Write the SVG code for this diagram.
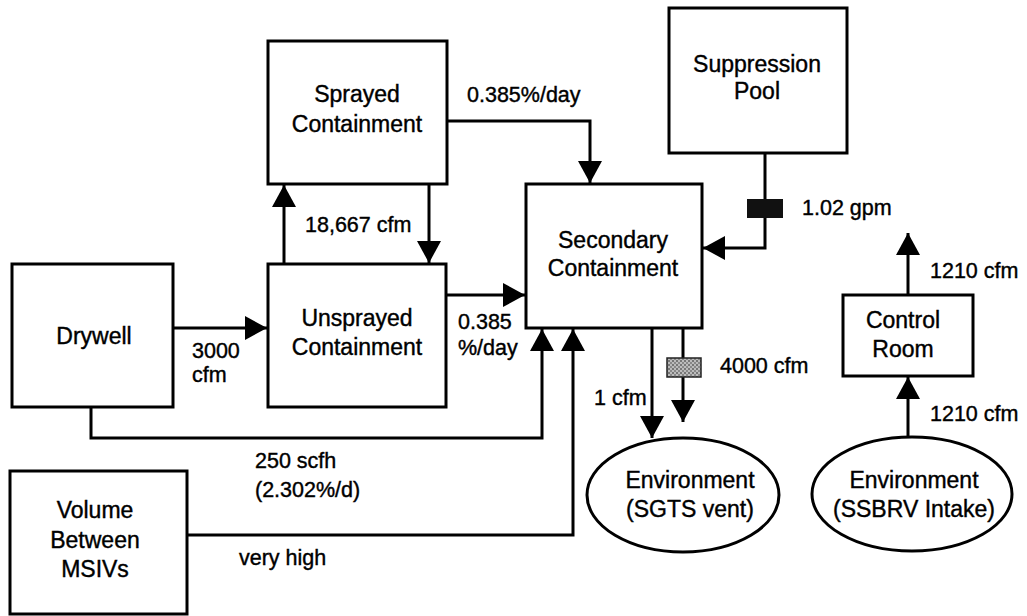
<svg xmlns="http://www.w3.org/2000/svg" width="1027" height="616" viewBox="0 0 1027 616">
<style>
.box{fill:#fff;stroke:#000;stroke-width:3}
.ln{fill:none;stroke:#000;stroke-width:3}
.nt{font-family:"Liberation Sans",Arial,sans-serif;font-size:23px;text-anchor:middle;fill:#000;stroke:#000;stroke-width:0.4}
.lb{font-family:"Liberation Sans",Arial,sans-serif;font-size:21.5px;fill:#000;stroke:#000;stroke-width:0.4}
</style>
<defs>
<marker id="ah" viewBox="0 0 22 24" refX="22" refY="12" markerWidth="22" markerHeight="24" markerUnits="userSpaceOnUse" orient="auto">
<path d="M0,0 L22,12 L0,24 Z" fill="#000"/>
</marker>
<pattern id="hatch" width="4" height="4" patternUnits="userSpaceOnUse">
<rect width="4" height="4" fill="#bbb"/>
<rect width="2" height="2" fill="#777"/>
<rect x="2" y="2" width="2" height="2" fill="#888"/>
</pattern>
</defs>
<rect width="1027" height="616" fill="#fff"/>

<g id="connectors">
<path class="ln" d="M284,264 V185" marker-end="url(#ah)"/>
<path class="ln" d="M429,184 V263" marker-end="url(#ah)"/>
<path class="ln" d="M447,121 H590 V183" marker-end="url(#ah)"/>
<path class="ln" d="M446,295 H525" marker-end="url(#ah)"/>
<path class="ln" d="M173,328 H267" marker-end="url(#ah)"/>
<path class="ln" d="M91,407 V438 H542 V329" marker-end="url(#ah)"/>
<path class="ln" d="M187,535 H573 V329" marker-end="url(#ah)"/>
<path class="ln" d="M765,153 V248 H703" marker-end="url(#ah)"/>
<rect x="747" y="199" width="36" height="19" fill="#111"/>
<path class="ln" d="M652,328 V438" marker-end="url(#ah)"/>
<path class="ln" d="M683,328 V422" marker-end="url(#ah)"/>
<rect x="667" y="358" width="34" height="19" fill="url(#hatch)" stroke="#222" stroke-width="1.5"/>
<path class="ln" d="M908,295 V233" marker-end="url(#ah)"/>
<path class="ln" d="M908,437 V377" marker-end="url(#ah)"/>
<text class="lb" x="305" y="232">18,667 cfm</text>
<text class="lb" x="467" y="102">0.385%/day</text>
<text class="lb" x="458" y="329">0.385</text>
<text class="lb" x="458" y="355">%/day</text>
<text class="lb" x="192" y="358">3000</text>
<text class="lb" x="192" y="382">cfm</text>
<text class="lb" x="255" y="468">250 scfh</text>
<text class="lb" x="255" y="497">(2.302%/d)</text>
<text class="lb" x="239" y="565">very high</text>
<text class="lb" x="802" y="215">1.02 gpm</text>
<text class="lb" x="720" y="373">4000 cfm</text>
<text class="lb" x="594" y="405">1 cfm</text>
<text class="lb" x="930" y="278">1210 cfm</text>
<text class="lb" x="930" y="421">1210 cfm</text>
</g>

<g id="sprayed">
<rect class="box" x="268" y="41" width="179" height="143"/>
<text class="nt" x="357" y="102">Sprayed</text>
<text class="nt" x="357" y="132">Containment</text>
</g>
<g id="unsprayed">
<rect class="box" x="268" y="264" width="178" height="143"/>
<text class="nt" x="357" y="326">Unsprayed</text>
<text class="nt" x="357" y="355">Containment</text>
</g>
<g id="drywell">
<rect class="box" x="12" y="264" width="161" height="143"/>
<text class="nt" x="94" y="344">Drywell</text>
</g>
<g id="msivs">
<rect class="box" x="10" y="471" width="177" height="143"/>
<text class="nt" x="95" y="518">Volume</text>
<text class="nt" x="95" y="548">Between</text>
<text class="nt" x="95" y="577">MSIVs</text>
</g>
<g id="secondary">
<rect class="box" x="526" y="184" width="176" height="144"/>
<text class="nt" x="613" y="248">Secondary</text>
<text class="nt" x="613" y="276">Containment</text>
</g>
<g id="pool">
<rect class="box" x="669" y="8" width="178" height="145"/>
<text class="nt" x="757" y="72">Suppression</text>
<text class="nt" x="757" y="99">Pool</text>
</g>
<g id="control">
<rect class="box" x="843" y="295" width="130" height="81"/>
<text class="nt" x="903" y="328">Control</text>
<text class="nt" x="903" y="357">Room</text>
</g>
<g id="env-sgts">
<ellipse class="box" cx="683" cy="495" rx="96" ry="57"/>
<text class="nt" x="690" y="488">Environment</text>
<text class="nt" x="690" y="517">(SGTS vent)</text>
</g>
<g id="env-ssbrv">
<ellipse class="box" cx="912" cy="494" rx="100" ry="57"/>
<text class="nt" x="914" y="488">Environment</text>
<text class="nt" x="914" y="517">(SSBRV Intake)</text>
</g>
</svg>
